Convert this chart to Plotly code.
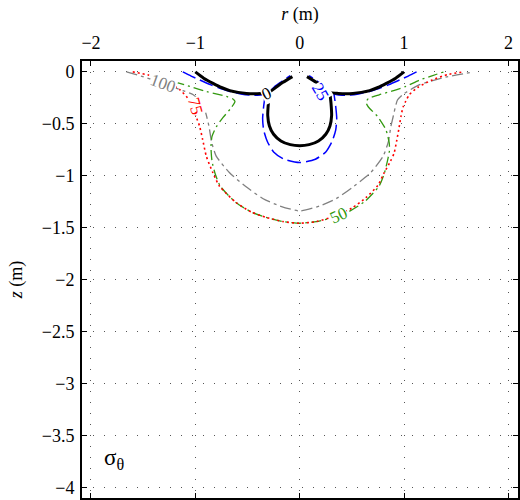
import plotly.graph_objects as go

# ---- contour data (r, z); None separates branches ----
c0_r = [-1.0, -0.92, -0.83, -0.75, -0.67, -0.59, -0.51, -0.44, -0.37, -0.30, -0.23, -0.16, -0.07, None,
        -0.29, -0.30, -0.306, -0.29, -0.25, -0.18, -0.09, 0.0, 0.09, 0.18, 0.25, 0.29, 0.306, 0.30, 0.29, None,
        1.0, 0.92, 0.83, 0.75, 0.67, 0.59, 0.51, 0.44, 0.37, 0.30, 0.23, 0.16, 0.07]
c0_z = [0.0, -0.06, -0.11, -0.15, -0.18, -0.197, -0.207, -0.21, -0.207, -0.20, -0.15, -0.10, -0.045, None,
        -0.21, -0.30, -0.42, -0.52, -0.60, -0.665, -0.70, -0.71, -0.70, -0.665, -0.60, -0.52, -0.42, -0.30, -0.21, None,
        0.0, -0.06, -0.11, -0.15, -0.18, -0.197, -0.207, -0.21, -0.207, -0.20, -0.15, -0.10, -0.045]

c25_r = [-1.12, -1.04, -0.96, -0.85, -0.70, -0.55, -0.45, -0.36, -0.30, -0.24, -0.17, -0.09, None,
         -0.33, -0.345, -0.355, -0.345, -0.31, -0.25, -0.15, 0.0, 0.15, 0.25, 0.31, 0.345, 0.355, 0.345, 0.33, None,
         1.12, 1.04, 0.96, 0.85, 0.70, 0.55, 0.45, 0.36, 0.30, 0.24, 0.17, 0.09]
c25_z = [0.0, -0.04, -0.077, -0.125, -0.18, -0.215, -0.225, -0.22, -0.20, -0.14, -0.09, -0.035, None,
         -0.22, -0.33, -0.45, -0.56, -0.67, -0.77, -0.84, -0.872, -0.84, -0.77, -0.67, -0.56, -0.45, -0.33, -0.22, None,
         0.0, -0.04, -0.077, -0.125, -0.18, -0.215, -0.225, -0.22, -0.20, -0.14, -0.09, -0.035]

c50_r = [-1.20, -1.05, -0.895, -0.704, -0.64, -0.62, -0.66, -0.736, -0.80, -0.84, -0.85, -0.84, -0.81, -0.76,
         -0.62, -0.46, -0.32, -0.16, 0.0, 0.16, 0.32, 0.46, 0.62, 0.76, 0.81, 0.84, 0.86, 0.858, 0.826, 0.746,
         0.66, 0.635, 0.66, 0.762, 0.90, 1.017, 1.144, 1.26, 1.38]
c50_z = [-0.095, -0.14, -0.188, -0.236, -0.26, -0.285, -0.35, -0.44, -0.53, -0.62, -0.72, -0.86, -0.98, -1.10,
         -1.25, -1.35, -1.40, -1.44, -1.456, -1.44, -1.40, -1.35, -1.25, -1.10, -0.98, -0.86, -0.76, -0.683, -0.556, -0.428,
         -0.34, -0.29, -0.255, -0.22, -0.18, -0.14, -0.08, -0.04, 0.0]

c75_r = [-1.60, -1.45, -1.30, -1.15, -1.06, -1.007, -0.96, -0.93, -0.895, -0.832, -0.768, -0.608, -0.46, -0.32,
         -0.16, 0.0, 0.16, 0.33, 0.50, 0.635, 0.75, 0.81, 0.87, 0.905, 0.93, 0.95, 0.97, 0.99, 1.017, 1.05,
         1.13, 1.27, 1.42, 1.575]
c75_z = [0.0, -0.03, -0.08, -0.17, -0.27, -0.396, -0.52, -0.65, -0.81, -0.97, -1.10, -1.258, -1.35, -1.40,
         -1.44, -1.456, -1.44, -1.39, -1.31, -1.21, -1.09, -0.97, -0.86, -0.78, -0.66, -0.55, -0.43, -0.34, -0.28, -0.22,
         -0.15, -0.077, -0.025, 0.0]

c100_r = [-1.66, -1.52, -1.31, -1.12, -1.02, -0.96, -0.91, -0.87, -0.845, -0.80, -0.672, -0.52, -0.35, -0.19,
          0.0, 0.19, 0.35, 0.52, 0.68, 0.80, 0.85, 0.874, 0.889, 0.937, 0.985, 1.144, 1.40, 1.67]
c100_z = [0.0, -0.04, -0.11, -0.18, -0.22, -0.28, -0.364, -0.52, -0.67, -0.81, -0.97, -1.10, -1.22, -1.29,
          -1.338, -1.29, -1.22, -1.10, -0.97, -0.81, -0.67, -0.524, -0.46, -0.27, -0.22, -0.125, -0.05, 0.0]

levels = ["0", "25", "50", "75", "100"]
label_r = [-0.315, 0.195, 0.373, -0.997, -1.31]
label_z = [-0.204, -0.188, -1.38, -0.33, -0.115]

x_ticks = [-2, -1, 0, 1, 2]
y_ticks = [0, -0.5, -1, -1.5, -2, -2.5, -3, -3.5, -4]

SERIF = "Liberation Serif, Times New Roman, DejaVu Serif, serif"

styles = {
    "100": dict(color="#808080", width=1.3, dash="11px,4px,3px,4px"),
    "50": dict(color="#339910", width=1.3, dash="10px,4px,2px,4px"),
    "75": dict(color="#ff0000", width=1.6, dash="2px,3px"),
    "25": dict(color="#0000ff", width=1.5, dash="14px,5px"),
    "0": dict(color="#000000", width=3.0, dash="solid"),
}
data = {"0": (c0_r, c0_z), "25": (c25_r, c25_z), "50": (c50_r, c50_z),
        "75": (c75_r, c75_z), "100": (c100_r, c100_z)}

fig = go.Figure()
for lev in ["100", "50", "75", "25", "0"]:
    r, z = data[lev]
    fig.add_trace(go.Scatter(x=r, y=z, mode="lines", line=dict(shape="spline", smoothing=0.6, **styles[lev]),
                             connectgaps=False, showlegend=False, hoverinfo="skip"))

angles = {"0": -25, "25": 60, "50": -25, "75": 75, "100": 20}
for lev, lr, lz in zip(levels, label_r, label_z):
    fig.add_annotation(x=lr, y=lz, text=lev, showarrow=False, textangle=angles[lev],
                       font=dict(family=SERIF, size=17, color=styles[lev]["color"]),
                       bgcolor="white", borderpad=0)

fig.add_annotation(x=-1.895, y=-3.72, xanchor="left", yanchor="middle", text="σ<sub>θ</sub>", showarrow=False,
                   font=dict(family=SERIF, size=23, color="black"))

axis_common = dict(showline=True, linecolor="black", linewidth=2, ticks="inside", ticklen=5,
                   tickcolor="black", tickwidth=1, showgrid=True, gridcolor="#555555", gridwidth=1,
                   griddash="1px,10px", zeroline=False, tickfont=dict(family=SERIF, size=18, color="black"),
                   mirror="ticks")

fig.update_layout(
    width=520, height=500,
    margin=dict(l=82, r=1, t=61, b=0),
    paper_bgcolor="white", plot_bgcolor="white",
    font=dict(family=SERIF),
    xaxis=dict(side="top", range=[-2.086, 2.092], tickvals=x_ticks, ticklabelstandoff=3,
               title=dict(text="<i>r</i> (m)", font=dict(family=SERIF, size=18, color="black"), standoff=7),
               **axis_common),
    yaxis=dict(range=[-4.10, 0.105], tickvals=y_ticks, ticklabelstandoff=2,
               title=dict(text="<i>z</i> (m)", font=dict(family=SERIF, size=18, color="black"), standoff=14),
               **axis_common),
)

fig.write_html("out.html")
